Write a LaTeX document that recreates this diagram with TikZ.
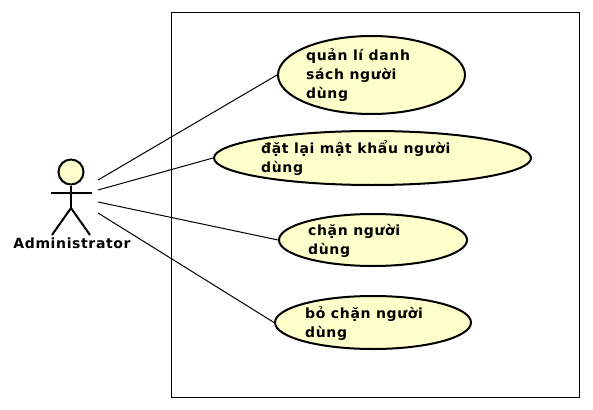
\documentclass[tikz,border=0pt]{standalone}
\usepackage{fontspec}
\setmainfont{DejaVu Sans}[LetterSpace=4.5]
\usepackage{tikz}
\usetikzlibrary{shapes.geometric}
\definecolor{usefill}{HTML}{FFFFCC}
\tikzset{usecase/.style = {ellipse,draw,line width=2pt,fill=usefill,inner sep=0pt},
    usetext/.style = {anchor=north west,align=left,inner sep=0pt,font=\bfseries\fontsize{14}{19}\selectfont},
    limb/.style = {line width=2pt}}

\begin{document}
\begin{tikzpicture}[x=1pt, y=-1pt]
            \useasboundingbox (0,0) rectangle (593,409);
            \node (system) [draw,line width=1pt,minimum width=408pt,minimum height=384pt,inner sep=0pt] at (375,205) {};

            \node (manage) [usecase,minimum width=187pt,minimum height=78pt] at (371.5,75) {};
            \node (reset)  [usecase,minimum width=317pt,minimum height=54pt] at (372.5,158) {};
            \node (block)  [usecase,minimum width=188pt,minimum height=52pt] at (373,240) {};
            \node (unblock)[usecase,minimum width=196pt,minimum height=53pt] at (373,322.5) {};

            \node (manageT)  [usetext] at (306,48)  {quản lí danh\\sách người\\dùng};
            \node (resetT)   [usetext] at (261,141) {đặt lại mật khẩu người\\dùng};
            \node (blockT)   [usetext] at (308,224) {chặn người\\dùng};
            \node (unblockT) [usetext] at (305,306) {bỏ chặn người\\dùng};

            % actor
            \node (head) [circle,draw,line width=2pt,fill=usefill,minimum size=25pt,inner sep=0pt] at (71,172) {};
            \coordinate (armL) at (51,193);
            \coordinate (armR) at (92,193);
            \coordinate (hip) at (71,208);
            \coordinate (footL) at (52,235);
            \coordinate (footR) at (90,235);
            \draw[limb] (armL) -- (armR);
            \draw[limb] (head) -- (hip);
            \draw[limb] (footL) -- (hip) -- (footR);
            \node (actor) [inner sep=0pt,font=\bfseries\fontsize{14}{15}\selectfont] at (72,243) {Administrator};

            \coordinate (a1) at (98,180);
            \coordinate (a2) at (98,190);
            \coordinate (a3) at (98,202);
            \coordinate (a4) at (98,213);
            \draw[line width=1pt] (a1) -- (manage.west);
            \draw[line width=1pt] (a2) -- (reset.west);
            \draw[line width=1pt] (a3) -- (block.west);
            \draw[line width=1pt] (a4) -- (unblock.west);
        \end{tikzpicture}
\end{document}
